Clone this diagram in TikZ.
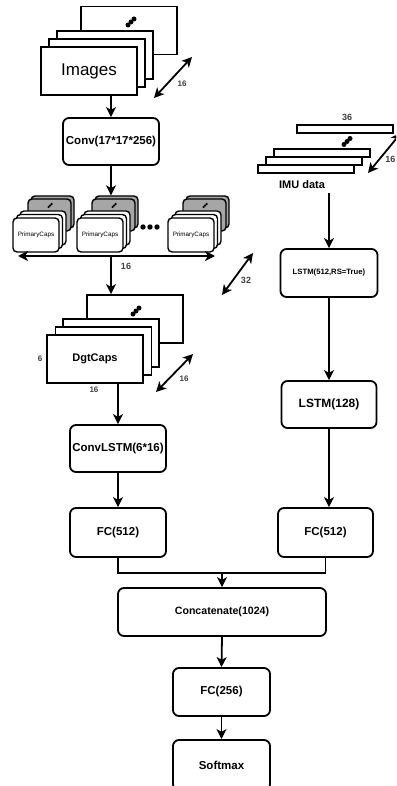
\documentclass[tikz,border=0pt]{standalone}
\usepackage{fontspec}
\setmainfont{Liberation Sans}
\usetikzlibrary{arrows.meta}
\begin{document}
\begin{tikzpicture}[x=1pt,y=-1pt,
  box/.style={draw, line width=1.8pt, rounded corners=6pt, fill=white, align=center, inner sep=0pt,
    font=\bfseries\fontsize{11.5}{13}\selectfont},
  sheet/.style={draw, line width=1.8pt, fill=white, inner sep=0pt, minimum width=96pt, minimum height=48pt},
  strip/.style={draw, line width=1.6pt, fill=white, inner sep=0pt, minimum width=96pt, minimum height=8pt},
  capw/.style={draw, line width=1.4pt, rounded corners=4pt, fill=white, inner sep=0pt,
    minimum width=46pt, minimum height=34pt},
  capg/.style={capw, fill=gray!70, minimum width=43pt, minimum height=32pt},
  hd/.tip={Stealth[length=10pt,width=10pt,inset=2.8pt]},
  arr/.style={line width=1.8pt, -{hd}},
  darr/.style={line width=1.8pt, {hd}-{hd}},
  dim/.style={font=\bfseries\fontsize{8}{9}\selectfont, text=black!75, inner sep=0pt},
  pics/stackdots/.style={code={
    \fill (-3,3) circle (2.5); \fill (0,0) circle (2.5); \fill (3,-3) circle (2.5);}},
]
\useasboundingbox (0,0) rectangle (396,786);
\fill[white] (0,0) rectangle (396,786);
\clip (0,0) rectangle (396,786);

% ---------------- image branch ----------------
\node[sheet] (imgD) at (129,30.5) {};
\pic at (131,22) {stackdots};
\node[sheet] (imgC) at (105,55) {};
\node[sheet] (imgB) at (97,63) {};
\node[sheet, font=\fontsize{17}{19}\selectfont] (img) at (89,71) {Images};
\coordinate (imgA1) at (154,98);
\coordinate (imgA2) at (192,57);
\draw[darr] (imgA1) -- (imgA2);
\node[dim] (imgN) at (182,84) {16};

\node[box, minimum width=96pt, minimum height=47pt] (conv) at (111,141.5) {Conv(17*17*256)};
\draw[arr] (conv.north |- img.south) -- (conv.north);

% primary capsule groups
\foreach \g/\dx in {1/0, 2/64, 3/155}{
  \node[capg] (pc\g g2) at (\dx+52.5,212) {};
  \node[capg] (pc\g g1) at (\dx+49.5,215) {};
  \pic[scale=0.5] at (\dx+50,205.5) {stackdots};
  \node[capw] (pc\g w3) at (\dx+43,228) {};
  \node[capw] (pc\g w2) at (\dx+39.5,231.5) {};
  \node[capw, font=\fontsize{6.3}{7}\selectfont] (pc\g) at (\dx+36,235) {PrimaryCaps};
}
\foreach \px in {143,150,157}{\fill (\px,227) circle (2.7);}
\draw[arr] (conv.south) -- (conv.south |- pc2g2.north);

\coordinate (hL) at (18,256);
\coordinate (hR) at (215,256);
\draw[darr] (hL) -- (hR);
\node[dim, font=\bfseries\fontsize{9}{10}\selectfont] (hN) at (126,266) {16};

\coordinate (cA1) at (222,295);
\coordinate (cA2) at (253,253);
\draw[darr] (cA1) -- (cA2);
\node[dim, font=\bfseries\fontsize{9}{10}\selectfont] (cN) at (246,280) {32};

% digit capsules
\node[sheet] (dgD) at (135,319) {};
\pic at (136,311) {stackdots};
\node[sheet] (dgC) at (111,343) {};
\node[sheet] (dgB) at (103.5,351) {};
\node[sheet, font=\bfseries\fontsize{11}{13}\selectfont] (dg) at (95,359) {DgtCaps};
\node[dim] (dgH) at (40,359) {6};
\node[dim] (dgW) at (94,390) {16};
\draw[arr] (conv.south |- hL) -- (conv.south |- dgD.north);
\coordinate (dA1) at (156,392);
\coordinate (dA2) at (193,354);
\draw[darr] (dA1) -- (dA2);
\node[dim] (dN) at (184,379) {16};

\node[box, minimum width=96pt, minimum height=47pt] (cl) at (118,448.5) {ConvLSTM(6*16)};
\draw[arr] (cl.north |- dg.south) -- (cl.north);
\node[box, minimum width=96pt, minimum height=49pt] (fcL) at (118,532.5) {FC(512)};
\draw[arr] (cl.south) -- (fcL.north);

% ---------------- IMU branch ----------------
\node[dim, font=\bfseries\fontsize{9}{10}\selectfont] (imuW) at (347,117) {36};
\node[strip] (imuD) at (345,129) {};
\pic at (347,141.5) {stackdots};
\node[strip] (imuC) at (322,153) {};
\node[strip] (imuB) at (314,161) {};
\node[strip] (imuA) at (306,169) {};
\coordinate (iA1) at (368,173);
\coordinate (iA2) at (401,133);
\draw[darr] (iA1) -- (iA2);
\node[dim, anchor=east, font=\bfseries\fontsize{9}{10}\selectfont] (iN) at (395.5,159) {16};
\node[font=\bfseries\fontsize{11}{13}\selectfont, inner sep=1pt] (imu) at (302,185) {IMU data};

\node[box, minimum width=97pt, minimum height=48pt, font=\bfseries\fontsize{7.7}{9}\selectfont]
  (l512) at (329,273) {LSTM(512,RS=True)};
\draw[arr] (l512.north |- imu.south) ++(0,3) -- (l512.north);
\node[box, minimum width=95pt, minimum height=47pt, font=\bfseries\fontsize{12}{14}\selectfont]
  (l128) at (329,404.5) {LSTM(128)};
\draw[arr] (l512.south) -- (l128.north);
\node[box, minimum width=95pt, minimum height=49pt] (fcR) at (325.5,532.5) {FC(512)};
\draw[arr] (l128.south) -- (l128.south |- fcR.north);

% ---------------- fusion ----------------
\coordinate (mrg) at (222,573);
\draw[line width=1.8pt] (fcL.south) |- (mrg) -| (fcR.south);
\node[box, minimum width=208pt, minimum height=48pt, font=\bfseries\fontsize{10.6}{12}\selectfont]
  (cat) at (222,612) {Concatenate(1024)};
\draw[arr] (mrg) -- (cat.north);
\node[box, minimum width=97pt, minimum height=48pt] (fc256) at (221.5,692) {FC(256)};
\draw[arr] (cat.south) -- (fc256.north);
\node[box, minimum width=97pt, minimum height=50pt] (sm) at (221.5,765) {Softmax};
\draw[arr] (fc256.south) -- (sm.north);
\end{tikzpicture}
\end{document}
